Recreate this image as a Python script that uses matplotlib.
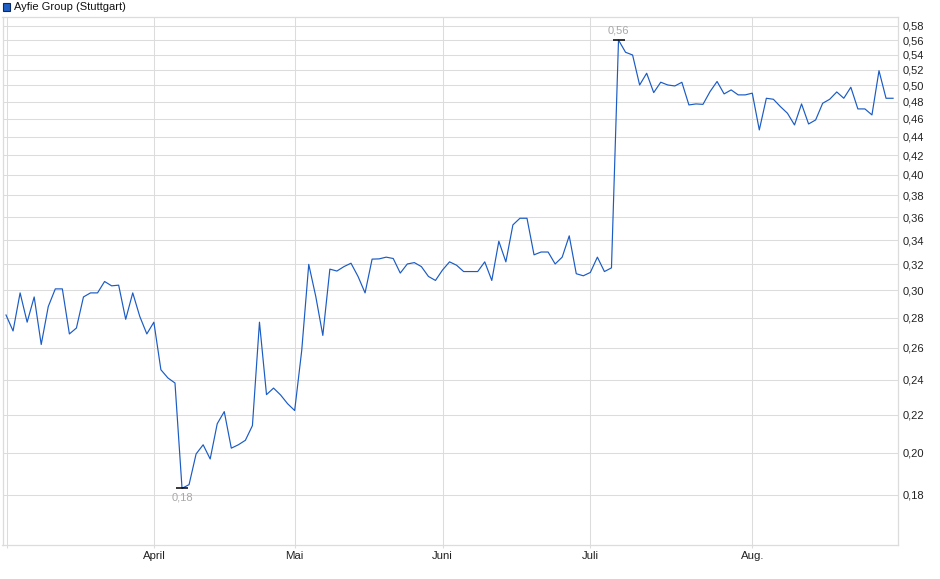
import matplotlib
matplotlib.use("Agg")
import matplotlib.pyplot as plt
from matplotlib.ticker import FixedLocator, NullLocator

plt.rcParams['font.family'] = ['Liberation Sans', 'DejaVu Sans']

title = "Ayfie Group (Stuttgart)"

prices = [
    0.282, 0.271, 0.298, 0.277, 0.295, 0.262, 0.288, 0.301, 0.301, 0.269,
    0.273, 0.295, 0.298, 0.298, 0.3066, 0.3033, 0.3038, 0.279, 0.298, 0.281,
    0.269, 0.277, 0.246, 0.241, 0.238, 0.183, 0.1847, 0.1994, 0.204, 0.1969,
    0.215, 0.2216, 0.2023, 0.204, 0.2063, 0.214, 0.277, 0.2312, 0.235, 0.231,
    0.226, 0.2222, 0.258, 0.320, 0.2953, 0.268, 0.3162, 0.3147, 0.3182, 0.3209,
    0.3105, 0.298, 0.3242, 0.3244, 0.3258, 0.3247, 0.3131, 0.3203, 0.3214, 0.3182,
    0.3105, 0.3074, 0.3155, 0.322, 0.3193, 0.3143, 0.3143, 0.3143, 0.322, 0.3074,
    0.339, 0.322, 0.3531, 0.359, 0.359, 0.3277, 0.330, 0.330, 0.3203, 0.3258,
    0.3436, 0.3126, 0.311, 0.3136, 0.3258, 0.3143, 0.3172, 0.560, 0.5432, 0.5395,
    0.5006, 0.5155, 0.4912, 0.5041, 0.5006, 0.4994, 0.504, 0.4763, 0.4775, 0.477,
    0.4924, 0.505, 0.4896, 0.4945, 0.4884, 0.4884, 0.4905, 0.4475, 0.4843, 0.4831,
    0.4743, 0.4665, 0.4531, 0.4775, 0.4542, 0.4588, 0.4783, 0.4831, 0.492, 0.4843,
    0.4978, 0.4716, 0.4716, 0.4646, 0.5188, 0.4843, 0.4843,
]

month_labels = ["", "April", "Mai", "Juni", "Juli", "Aug."]
month_start_idx = [0.1, 21, 41, 62, 83, 106]

ytick_values = [0.18, 0.20, 0.22, 0.24, 0.26, 0.28, 0.30, 0.32, 0.34, 0.36,
                0.38, 0.40, 0.42, 0.44, 0.46, 0.48, 0.50, 0.52, 0.54, 0.56, 0.58]

line_color = "#1a5bc4"
grid_color = "#dcdcdc"
label_color = "#a8a8a8"

W, H = 940, 579
fig = plt.figure(figsize=(W / 100, H / 100), dpi=100)
ax = fig.add_axes([2.5 / W, (H - 545) / H, (898 - 2.5) / W, (545 - 16.5) / H])

x = list(range(len(prices)))
ax.plot(x, prices, color=line_color, lw=0.85, zorder=3)

ax.set_yscale('log')
ax.set_ylim(0.15887, 0.5939)
ax.set_xlim(-0.5, 126.7)

ax.yaxis.set_major_locator(FixedLocator(ytick_values))
ax.yaxis.set_minor_locator(NullLocator())
ax.set_yticklabels([f"{v:.2f}".replace('.', ',') for v in ytick_values])
ax.yaxis.tick_right()
ax.tick_params(axis='y', which='both', length=0, pad=3.5, labelsize=8, colors='#222222')

ax.xaxis.set_major_locator(FixedLocator(month_start_idx))
ax.xaxis.set_minor_locator(NullLocator())
ax.set_xticklabels(month_labels)
ax.tick_params(axis='x', length=2, pad=2, color=grid_color, labelsize=8.2, labelcolor='#222222')

ax.grid(True, which='major', color=grid_color, lw=0.75, zorder=0)
for s in ax.spines.values():
    s.set_color(grid_color)
    s.set_linewidth(0.9)

# max / min annotations
imax = max(range(len(prices)), key=lambda i: prices[i])
imin = min(range(len(prices)), key=lambda i: prices[i])
ax.plot([imax], [prices[imax]], marker='_', markersize=9, color='black', mew=1.1, zorder=4)
ax.plot([imin], [prices[imin]], marker='_', markersize=9, color='black', mew=1.1, zorder=4)
ax.annotate(f"{round(prices[imax], 2):.2f}".replace('.', ','), (imax, prices[imax]),
            xytext=(0, 3), textcoords='offset points', ha='center', va='bottom',
            fontsize=8, color=label_color)
ax.annotate(f"{round(prices[imin], 2):.2f}".replace('.', ','), (imin, prices[imin]),
            xytext=(0, -3), textcoords='offset points', ha='center', va='top',
            fontsize=8, color=label_color)

# legend-like title at top left
fig.patches.append(plt.Rectangle((2.5 / W, 1 - 10.5 / H), 7 / W, 7 / H,
                                 transform=fig.transFigure, facecolor='#1f5fc4',
                                 edgecolor='#0a2a66', lw=0.8))
fig.text(14 / W, 1 - 6.5 / H, title, ha='left', va='center', fontsize=8, color='#111111')

fig.savefig("out.png", dpi=100)
